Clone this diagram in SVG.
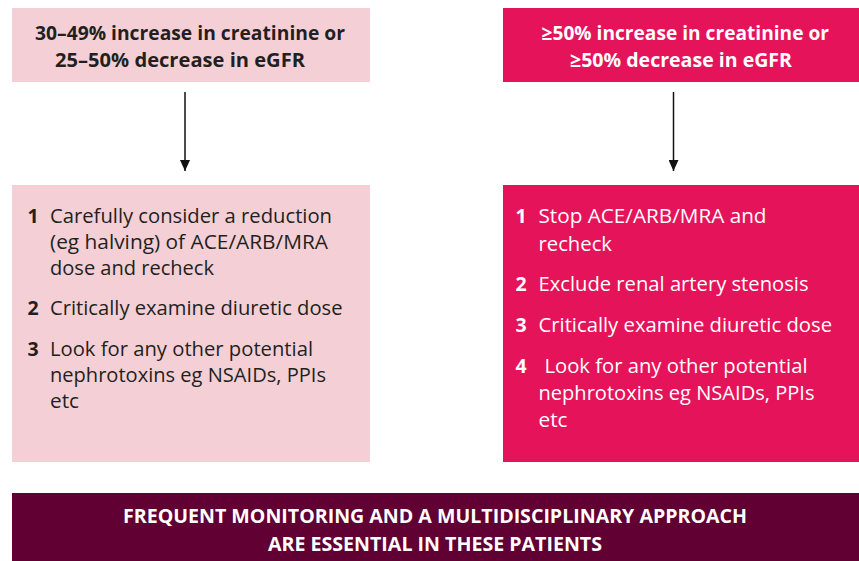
<svg xmlns="http://www.w3.org/2000/svg" width="859" height="561" viewBox="0 0 859 561">
  <defs>
    <!-- arrowhead drawn along +x so orient="auto" turns it with the line -->
    <marker id="arrowhead" viewBox="0 0 11 10" refX="11" refY="5" markerWidth="11" markerHeight="10" markerUnits="userSpaceOnUse" orient="auto">
      <path d="M0,0 L11,5 L0,10 Z" fill="#111111"/>
    </marker>
    <style>
      .light { fill: #f4d0d6; }
      .strong { fill: #e5135a; }
      .banner { fill: #600033; }
      .head { font-family: "Open Sans", "Liberation Sans", sans-serif; font-weight: 700; font-size: 19.5px; }
      .body { font-family: "Open Sans", "Liberation Sans", sans-serif; font-weight: 400; font-size: 19.5px; }
      .num { font-family: "Open Sans", "Liberation Sans", sans-serif; font-weight: 700; font-size: 19.5px; }
      .foot { font-family: "Open Sans", "Liberation Sans", sans-serif; font-weight: 700; font-size: 20px; fill: #ffffff; }
      .dark { fill: #231f20; }
      .white { fill: #ffffff; }
      .link { stroke: #111111; stroke-width: 1.5; fill: none; }
    </style>
  </defs>

  <rect width="859" height="561" fill="#ffffff"/>

  <!-- moderate change: trigger -->
  <g id="moderate-trigger">
    <rect class="light" x="12" y="8" width="358" height="74"/>
    <text class="head dark" x="35" y="39.5" textLength="310" lengthAdjust="spacingAndGlyphs">30–49% increase in creatinine or</text>
    <text class="head dark" x="55" y="67" textLength="250" lengthAdjust="spacingAndGlyphs">25–50% decrease in eGFR</text>
  </g>

  <!-- severe change: trigger -->
  <g id="severe-trigger">
    <rect class="strong" x="503" y="8" width="356" height="74"/>
    <text class="head white" x="541.5" y="39.5" textLength="287.5" lengthAdjust="spacingAndGlyphs">≥50% increase in creatinine or</text>
    <text class="head white" x="570" y="67" textLength="222" lengthAdjust="spacingAndGlyphs">≥50% decrease in eGFR</text>
  </g>

  <!-- moderate change: actions -->
  <g id="moderate-actions">
    <rect class="light" x="12" y="185" width="358" height="277"/>
    <text class="num dark" x="27.5" y="223">1</text>
    <text class="body dark" x="50" y="223" textLength="282" lengthAdjust="spacingAndGlyphs">Carefully consider a reduction</text>
    <text class="body dark" x="50" y="249" textLength="278" lengthAdjust="spacingAndGlyphs">(eg halving) of ACE/ARB/MRA</text>
    <text class="body dark" x="50" y="275" textLength="164" lengthAdjust="spacingAndGlyphs">dose and recheck</text>
    <text class="num dark" x="27.5" y="315">2</text>
    <text class="body dark" x="50" y="315" textLength="292.5" lengthAdjust="spacingAndGlyphs">Critically examine diuretic dose</text>
    <text class="num dark" x="27.5" y="356">3</text>
    <text class="body dark" x="50" y="356" textLength="263" lengthAdjust="spacingAndGlyphs">Look for any other potential</text>
    <text class="body dark" x="50" y="382" textLength="276" lengthAdjust="spacingAndGlyphs">nephrotoxins eg NSAIDs, PPIs</text>
    <text class="body dark" x="50" y="408" textLength="29" lengthAdjust="spacingAndGlyphs">etc</text>
  </g>

  <!-- severe change: actions -->
  <g id="severe-actions">
    <rect class="strong" x="503" y="185" width="356" height="277"/>
    <text class="num white" x="515.5" y="223">1</text>
    <text class="body white" x="538.5" y="223" textLength="228" lengthAdjust="spacingAndGlyphs">Stop ACE/ARB/MRA and</text>
    <text class="body white" x="538.5" y="250.5" textLength="73.5" lengthAdjust="spacingAndGlyphs">recheck</text>
    <text class="num white" x="515.5" y="291">2</text>
    <text class="body white" x="538.5" y="291" textLength="270" lengthAdjust="spacingAndGlyphs">Exclude renal artery stenosis</text>
    <text class="num white" x="515.5" y="332">3</text>
    <text class="body white" x="538.5" y="332" textLength="293.5" lengthAdjust="spacingAndGlyphs">Critically examine diuretic dose</text>
    <text class="num white" x="515.5" y="373">4</text>
    <text class="body white" x="544.5" y="373" textLength="263" lengthAdjust="spacingAndGlyphs">Look for any other potential</text>
    <text class="body white" x="538.5" y="400" textLength="276" lengthAdjust="spacingAndGlyphs">nephrotoxins eg NSAIDs, PPIs</text>
    <text class="body white" x="538.5" y="427" textLength="29" lengthAdjust="spacingAndGlyphs">etc</text>
  </g>

  <!-- closing banner -->
  <g id="banner">
    <rect class="banner" x="12" y="493" width="847" height="68"/>
    <text class="foot" x="435" y="522.5" text-anchor="middle" textLength="624" lengthAdjust="spacingAndGlyphs">FREQUENT MONITORING AND A MULTIDISCIPLINARY APPROACH</text>
    <text class="foot" x="435" y="550.5" text-anchor="middle" textLength="334" lengthAdjust="spacingAndGlyphs">ARE ESSENTIAL IN THESE PATIENTS</text>
  </g>

  <!-- connectors -->
  <g id="connectors">
    <line class="link" x1="185" y1="92" x2="185" y2="171" marker-end="url(#arrowhead)"/>
    <line class="link" x1="673.5" y1="92" x2="673.5" y2="171" marker-end="url(#arrowhead)"/>
  </g>
</svg>
